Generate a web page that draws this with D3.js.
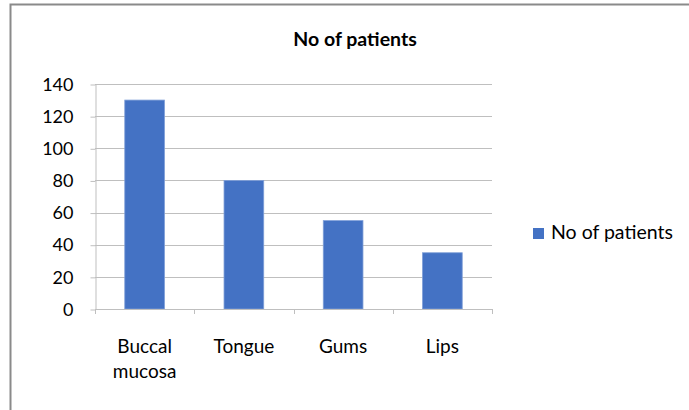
<!DOCTYPE html>
<html>
<head>
<meta charset="utf-8">
<script src="https://cdn.jsdelivr.net/npm/d3@7"></script>
<style>
  html, body { margin: 0; padding: 0; background: #fff; }
  svg { display: block; }
  text { font-family: Lato, "Open Sans", sans-serif; fill: #000; }
</style>
</head>
<body>
<svg id="chart" width="689" height="410"></svg>
<script>
// Patients by lesion site
const categories = ["Buccal mucosa", "Tongue", "Gums", "Lips"];
const categoryLines = [["Buccal", "mucosa"], ["Tongue"], ["Gums"], ["Lips"]];
const patients = [130, 80, 55, 35];
const yTicks = [0, 20, 40, 60, 80, 100, 120, 140];
const seriesName = "No of patients";
const chartTitle = "No of patients";

const svg = d3.select("#chart");
const W = 689, H = 410;
const plot = { left: 95, right: 492, top: 84, bottom: 309 };
const barColor = "#4472C4";
const gridColor = "#bfbfbf";
const fontSize = 18;
const catFontSize = 19;
const headFontSize = 19.5;

// chart frame (runs off the right and bottom edges)
svg.append("rect")
  .attr("x", 10.5).attr("y", 4.5)
  .attr("width", W + 20).attr("height", H + 20)
  .attr("fill", "#fff")
  .attr("stroke", "#8a8a8a")
  .attr("stroke-width", 2);

const x = d3.scaleBand()
  .domain(categories)
  .range([plot.left, plot.right])
  .paddingInner(0.6)
  .paddingOuter(0.3);

const y = d3.scaleLinear()
  .domain([0, 140])
  .range([plot.bottom, plot.top]);

// horizontal gridlines
svg.append("g")
  .selectAll("line")
  .data(yTicks.filter(d => d > 0))
  .join("line")
  .attr("x1", plot.left).attr("x2", plot.right)
  .attr("y1", d => Math.round(y(d)) + 0.5)
  .attr("y2", d => Math.round(y(d)) + 0.5)
  .attr("stroke", gridColor)
  .attr("stroke-width", 1);

// y axis
const yAxis = svg.append("g")
  .attr("transform", `translate(${plot.left + 0.5},0.5)`)
  .call(d3.axisLeft(y).tickValues(yTicks).tickSize(5).tickSizeOuter(0).tickPadding(17));
yAxis.select(".domain").attr("stroke", gridColor);
yAxis.selectAll(".tick line").attr("stroke", gridColor);
yAxis.selectAll(".tick text")
  .attr("font-family", "Lato, sans-serif")
  .attr("font-size", fontSize)
  .attr("fill", "#000");

// bars
svg.append("g")
  .selectAll("rect")
  .data(categories.map((c, i) => ({ c, v: patients[i] })))
  .join("rect")
  .attr("x", d => x(d.c))
  .attr("y", d => y(d.v))
  .attr("width", x.bandwidth())
  .attr("height", d => y(0) - y(d.v))
  .attr("fill", barColor)
  .attr("stroke", "#7f9fd8")
  .attr("stroke-width", 0.8);

// x axis baseline and category boundary ticks
const xAxis = svg.append("g");
xAxis.append("line")
  .attr("x1", plot.left).attr("x2", plot.right)
  .attr("y1", plot.bottom + 0.5).attr("y2", plot.bottom + 0.5)
  .attr("stroke", gridColor);
const step = x.step();
xAxis.selectAll("line.tick")
  .data(d3.range(categories.length + 1))
  .join("line")
  .attr("class", "tick")
  .attr("x1", i => Math.round(plot.left + i * step) + 0.5)
  .attr("x2", i => Math.round(plot.left + i * step) + 0.5)
  .attr("y1", plot.bottom)
  .attr("y2", plot.bottom + 5)
  .attr("stroke", gridColor);

// category labels
const labels = svg.append("g")
  .selectAll("text")
  .data(categories.map((c, i) => ({ c, lines: categoryLines[i] })))
  .join("text")
  .attr("text-anchor", "middle")
  .attr("font-size", catFontSize)
  .attr("x", d => x(d.c) + x.bandwidth() / 2)
  .attr("y", 353);
labels.selectAll("tspan")
  .data(d => d.lines.map(t => ({ t, x: x(d.c) + x.bandwidth() / 2 })))
  .join("tspan")
  .attr("x", d => d.x)
  .attr("dy", (d, i) => i === 0 ? 0 : 25)
  .text(d => d.t);

// title
svg.append("text")
  .attr("x", 355).attr("y", 46)
  .attr("text-anchor", "middle")
  .attr("font-size", headFontSize)
  .attr("font-weight", "bold")
  .text(chartTitle);

// legend
const legend = svg.append("g");
legend.append("rect")
  .attr("x", 533).attr("y", 228)
  .attr("width", 11).attr("height", 11)
  .attr("fill", barColor);
legend.append("text")
  .attr("x", 551).attr("y", 239)
  .attr("font-size", headFontSize)
  .text(seriesName);
</script>
</body>
</html>
